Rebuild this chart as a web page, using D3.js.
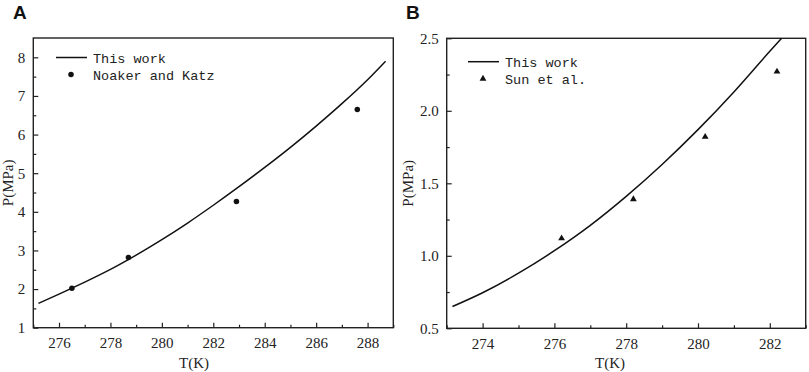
<!DOCTYPE html>
<html>
<head>
<meta charset="utf-8">
<script src="https://cdn.jsdelivr.net/npm/d3@7/dist/d3.min.js"></script>
<style>
    body { margin: 0; background: #fff; }
    svg { display: block; }
    .axis line { stroke: #222; stroke-width: 1.2; }
    .axis path { display: none; }
    .frame { fill: none; stroke: #222; stroke-width: 1.4; }
    .title { font-family: "Liberation Serif", serif; font-size: 15px; fill: #222; }
    .legend { font-family: "Liberation Mono", monospace; font-size: 13.5px; fill: #222; }
    .panel-label { font-family: "Liberation Sans", Arial, sans-serif; font-weight: bold; font-size: 19px; fill: #111; }
</style>
</head>
<body>
<div id="chart"></div>
<script>

// ---- Panel A: This work vs Noaker and Katz ----
const curveTA = [275.2, 276, 277, 278, 279, 280, 281, 282, 283, 284, 285, 286, 287, 288, 288.7];
const curvePA = [1.63, 1.87, 2.18, 2.51, 2.88, 3.28, 3.71, 4.17, 4.65, 5.15, 5.67, 6.22, 6.80, 7.42, 7.90];
const expTA = [276.5, 278.7, 282.9, 287.6];
const expPA = [2.02, 2.82, 4.27, 6.65];
const xTicksA = [276, 278, 280, 282, 284, 286, 288];
const yTicksA = [1, 2, 3, 4, 5, 6, 7, 8];

// ---- Panel B: This work vs Sun et al. ----
const curveTB = [273.16, 274, 275, 276, 277, 278, 279, 280, 281, 282, 282.33];
const curvePB = [0.65, 0.745, 0.88, 1.035, 1.21, 1.41, 1.63, 1.87, 2.13, 2.41, 2.5];
const expTB = [276.2, 278.2, 280.2, 282.2];
const expPB = [1.12, 1.39, 1.82, 2.27];
const xTicksB = [274, 276, 278, 280, 282];
const yTicksB = [0.5, 1.0, 1.5, 2.0, 2.5];

const W = 809, H = 372;

const svg = d3.select('#chart')
    .append('svg')
    .attr('width', W)
    .attr('height', H);

class PanelVis {
    constructor(opts) {
        Object.assign(this, opts);
        this.initVis();
    }

    initVis() {
        let vis = this;

        vis.g = svg.append('g');

        vis.x = d3.scaleLinear().domain(vis.xDomain).range([vis.left, vis.right]);
        vis.y = d3.scaleLinear().domain(vis.yDomain).range([vis.bottom, vis.top]);

        // minor ticks (inward, short)
        vis.g.append('g')
            .attr('class', 'axis')
            .attr('transform', `translate(0, ${vis.bottom})`)
            .call(d3.axisBottom(vis.x).tickValues(vis.xMinor).tickSize(-3).tickFormat(''));
        vis.g.append('g')
            .attr('class', 'axis')
            .attr('transform', `translate(${vis.left}, 0)`)
            .call(d3.axisLeft(vis.y).tickValues(vis.yMinor).tickSize(-3).tickFormat(''));

        // major ticks
        vis.gx = vis.g.append('g')
            .attr('class', 'axis')
            .attr('transform', `translate(0, ${vis.bottom})`)
            .call(d3.axisBottom(vis.x).tickValues(vis.xTicks).tickSize(-5).tickPadding(10));
        vis.gy = vis.g.append('g')
            .attr('class', 'axis')
            .attr('transform', `translate(${vis.left}, 0)`)
            .call(d3.axisLeft(vis.y).tickValues(vis.yTicks).tickSize(-5).tickPadding(8).tickFormat(d3.format(vis.yFormat)));

        [vis.gx, vis.gy].forEach(a => a.selectAll('text')
            .style('font-family', '"Liberation Serif", "DejaVu Serif", serif')
            .style('font-size', '15px')
            .attr('fill', '#222'));

        // frame
        vis.g.append('rect')
            .attr('class', 'frame')
            .attr('x', vis.left)
            .attr('y', vis.top)
            .attr('width', vis.right - vis.left)
            .attr('height', vis.bottom - vis.top);

        // model curve
        let line = d3.line()
            .x(d => vis.x(d[0]))
            .y(d => vis.y(d[1]))
            .curve(d3.curveMonotoneX);

        vis.g.append('path')
            .datum(vis.curveT.map((t, i) => [t, vis.curveP[i]]))
            .attr('d', line)
            .attr('fill', 'none')
            .attr('stroke', '#111')
            .attr('stroke-width', 1.5);

        // experimental points
        let sym = d3.symbol().type(vis.marker).size(vis.markerSize);
        vis.g.selectAll('.pt')
            .data(vis.expT.map((t, i) => [t, vis.expP[i]]))
            .enter()
            .append('path')
            .attr('class', 'pt')
            .attr('d', sym)
            .attr('transform', d => `translate(${vis.x(d[0])}, ${vis.y(d[1])})`)
            .attr('fill', '#111');

        // legend
        let lg = vis.g.append('g').attr('transform', `translate(${vis.legX}, ${vis.legY})`);
        lg.append('line')
            .attr('x1', 0).attr('x2', 31)
            .attr('y1', 0).attr('y2', 0)
            .attr('stroke', '#111')
            .attr('stroke-width', 1.5);
        lg.append('text').attr('class', 'legend').attr('x', 37).attr('y', 5).text('This work');
        lg.append('path')
            .attr('d', sym)
            .attr('transform', 'translate(15, 17)')
            .attr('fill', '#111');
        lg.append('text').attr('class', 'legend').attr('x', 37).attr('y', 22).text(vis.expName);

        // axis titles
        vis.g.append('text')
            .attr('class', 'title')
            .attr('text-anchor', 'middle')
            .attr('x', vis.xTitleX)
            .attr('y', 368)
            .text('T(K)');
        vis.g.append('text')
            .attr('class', 'title')
            .attr('text-anchor', 'middle')
            .attr('transform', `translate(${vis.yTitleX}, ${(vis.top + vis.bottom) / 2}) rotate(-90)`)
            .text('P(MPa)');

        // panel letter
        vis.g.append('text')
            .attr('class', 'panel-label')
            .attr('x', vis.labelX)
            .attr('y', 19)
            .text(vis.label);
    }
}

new PanelVis({
    label: 'A', labelX: 13,
    left: 33.3, right: 393.3, top: 38, bottom: 327.7,
    xDomain: [275, 289], yDomain: [1, 8.5],
    xTicks: xTicksA, yTicks: yTicksA,
    xMinor: [275, 277, 279, 281, 283, 285, 287, 289],
    yMinor: [1.5, 2.5, 3.5, 4.5, 5.5, 6.5, 7.5],
    yFormat: 'd',
    curveT: curveTA, curveP: curvePA,
    expT: expTA, expP: expPA,
    marker: d3.symbolCircle, markerSize: 24,
    expName: 'Noaker and Katz',
    legX: 56, legY: 57.5,
    xTitleX: 194, yTitleX: 13
});

new PanelVis({
    label: 'B', labelX: 406,
    left: 446.7, right: 805.7, top: 38.3, bottom: 328.3,
    xDomain: [273, 283], yDomain: [0.5, 2.5],
    xTicks: xTicksB, yTicks: yTicksB,
    xMinor: [273, 275, 277, 279, 281, 283],
    yMinor: [0.75, 1.25, 1.75, 2.25],
    yFormat: '.1f',
    curveT: curveTB, curveP: curvePB,
    expT: expTB, expP: expPB,
    marker: d3.symbolTriangle, markerSize: 20,
    expName: 'Sun et al.',
    legX: 468, legY: 61.7,
    xTitleX: 610, yTitleX: 413
});

</script>
</body>
</html>
